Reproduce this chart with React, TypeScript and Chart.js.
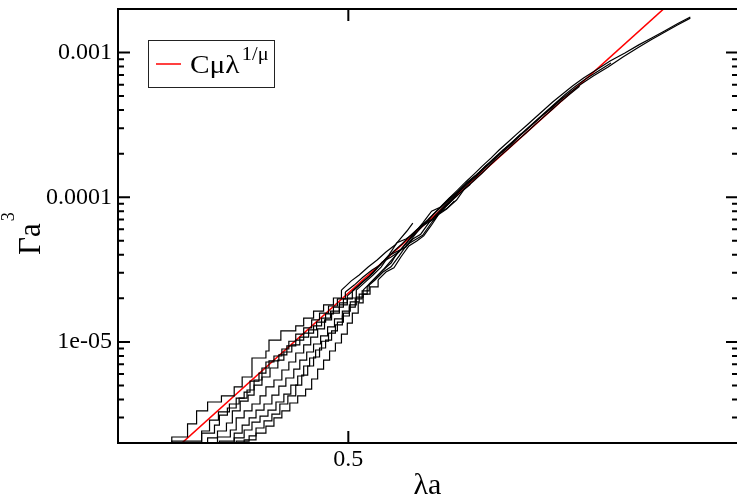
import React, { useEffect, useRef } from 'react';
import { Chart, registerables } from 'chart.js';

Chart.register(...registerables);

// ---------- axis ranges & ticks ----------
const X_MIN = 0.353;
const X_MAX = 0.9156;
const Y_MIN = 2e-6;
const Y_MAX = 2e-3;

const xTickValues = [0.5];
const xTickLabels = ['0.5'];
const yTickValues = [1e-5, 1e-4, 1e-3];
const yTickLabels = ['1e-05', '0.0001', '0.001'];
const yMinorValues = [
  3e-6, 4e-6, 5e-6, 6e-6, 7e-6, 8e-6, 9e-6,
  2e-5, 3e-5, 4e-5, 5e-5, 6e-5, 7e-5, 8e-5, 9e-5,
  2e-4, 3e-4, 4e-4, 5e-4, 6e-4, 7e-4, 8e-4, 9e-4,
];

const xTitle = 'λa';
const yTitle = 'Γa';
const yTitleSup = '3';
const legendText = 'Cμλ';
const legendSup = '1/μ';

// ---------- fit line (red) ----------
const redFit: [number, number][] = [
  [0.3864, 2e-6],
  [0.8147, 2e-3],
];

// ---------- measured curves: staircase part + smooth upper part ----------
const curveA_steps: [number, number][] = [
  [0.3707, 1.85e-6], [0.3804, 2.2e-6], [0.3898, 2.71e-6], [0.3953, 3.33e-6], [0.4021, 3.84e-6],
  [0.4108, 4.23e-6], [0.419, 4.88e-6], [0.4242, 5.72e-6], [0.4307, 7.74e-6], [0.4401, 8.65e-6],
  [0.4422, 1.03e-5], [0.4504, 1.19e-5], [0.4609, 1.29e-5], [0.4666, 1.46e-5], [0.4738, 1.63e-5],
  [0.4812, 1.8e-5], [0.4886, 2.01e-5], [0.4947, 2.28e-5],
];
const curveA_tail: [number, number][] = [
  [0.4947, 2.28e-5], [0.5023, 2.64e-5], [0.5085, 2.9e-5], [0.5156, 3.29e-5], [0.5228, 3.68e-5],
  [0.53, 4.18e-5], [0.5375, 4.67e-5], [0.5424, 5.22e-5], [0.5475, 5.84e-5], [0.5525, 6.63e-5],
];

const curveB_steps: [number, number][] = [
  [0.3707, 1.79e-6], [0.3804, 2.06e-6], [0.3984, 2.42e-6], [0.4033, 2.88e-6], [0.4089, 3.28e-6],
  [0.4159, 3.72e-6], [0.4222, 4.09e-6], [0.4274, 4.65e-6], [0.4321, 5.45e-6], [0.4374, 6.6e-6],
  [0.4422, 7.38e-6], [0.449, 8.12e-6], [0.4546, 9.37e-6], [0.4609, 1.03e-5], [0.4666, 1.15e-5],
  [0.4738, 1.29e-5], [0.4797, 1.46e-5], [0.4864, 1.63e-5], [0.4931, 1.86e-5], [0.4992, 2.08e-5],
];
const curveB_tail: [number, number][] = [
  [0.4992, 2.08e-5], [0.5062, 2.36e-5], [0.5132, 2.68e-5], [0.5195, 2.99e-5], [0.5268, 3.55e-5],
  [0.5342, 3.86e-5], [0.5408, 4.2e-5], [0.5483, 4.98e-5], [0.5559, 5.95e-5], [0.5636, 6.53e-5],
  [0.5715, 7.1e-5], [0.5795, 8.42e-5], [0.5875, 9.57e-5], [0.5957, 1.09e-4], [0.604, 1.23e-4],
];

const curveC_steps: [number, number][] = [
  [0.365, 1.65e-6], [0.3984, 2.34e-6], [0.4064, 2.66e-6], [0.4095, 3.12e-6], [0.4146, 3.49e-6],
  [0.4203, 4.09e-6], [0.4255, 4.5e-6], [0.4294, 5.36e-6], [0.4354, 6.09e-6], [0.4401, 7.26e-6],
  [0.4456, 7.99e-6], [0.4511, 8.93e-6], [0.456, 1.01e-5], [0.4609, 1.13e-5], [0.4666, 1.25e-5],
  [0.4724, 1.42e-5], [0.4782, 1.58e-5], [0.4849, 1.77e-5], [0.4916, 1.98e-5], [0.4977, 2.21e-5],
];
const curveC_tail: [number, number][] = [
  [0.4977, 2.21e-5], [0.5046, 2.47e-5], [0.5116, 2.81e-5], [0.5187, 3.14e-5], [0.5252, 3.4e-5],
  [0.5325, 3.99e-5], [0.5391, 4.85e-5], [0.5466, 5.14e-5], [0.5534, 5.6e-5], [0.561, 6.63e-5],
  [0.5688, 8.0e-5], [0.5768, 8.56e-5], [0.5848, 9.88e-5], [0.593, 1.1e-4], [0.6012, 1.27e-4],
  [0.6096, 1.42e-4], [0.618, 1.64e-4], [0.6267, 1.84e-4], [0.6354, 2.12e-4], [0.6443, 2.37e-4],
  [0.6532, 2.74e-4],
];

const curveD_steps: [number, number][] = [
  [0.365, 1.65e-6], [0.4021, 2.17e-6], [0.4083, 2.42e-6], [0.414, 2.75e-6], [0.4178, 3.33e-6],
  [0.4229, 3.9e-6], [0.4281, 4.29e-6], [0.4321, 5.03e-6], [0.4374, 5.72e-6], [0.4429, 6.6e-6],
  [0.4483, 7.49e-6], [0.4525, 8.51e-6], [0.4581, 9.52e-6], [0.4638, 1.08e-5], [0.4702, 1.21e-5],
  [0.476, 1.37e-5], [0.4827, 1.56e-5], [0.4886, 1.74e-5], [0.4962, 1.98e-5], [0.5031, 2.25e-5],
];
const curveD_tail: [number, number][] = [
  [0.5031, 2.25e-5], [0.5101, 2.55e-5], [0.5164, 2.85e-5], [0.5228, 3.24e-5], [0.5292, 3.68e-5],
  [0.5358, 4.18e-5], [0.5433, 4.75e-5], [0.55, 5.39e-5], [0.5576, 6.13e-5], [0.5653, 6.96e-5],
  [0.5724, 7.9e-5], [0.5804, 8.98e-5], [0.5884, 1.02e-4], [0.5957, 1.16e-4], [0.604, 1.32e-4],
  [0.6124, 1.49e-4], [0.6209, 1.7e-4], [0.6296, 1.93e-4], [0.6384, 2.19e-4], [0.6472, 2.49e-4],
  [0.6562, 2.82e-4], [0.6654, 3.21e-4], [0.6746, 3.64e-4], [0.6851, 4.14e-4], [0.6944, 4.7e-4],
  [0.7052, 5.34e-4], [0.7172, 6.06e-4], [0.7306, 6.88e-4], [0.7476, 7.94e-4], [0.765, 9.32e-4],
  [0.7828, 1.08e-3], [0.7986, 1.22e-3], [0.8147, 1.37e-3], [0.8323, 1.55e-3], [0.8491, 1.73e-3],
];

const curveE_steps: [number, number][] = [
  [0.365, 1.65e-6], [0.4083, 2.2e-6], [0.4165, 2.46e-6], [0.4203, 2.98e-6], [0.4255, 3.33e-6],
  [0.4307, 3.72e-6], [0.4361, 4.23e-6], [0.4401, 4.88e-6], [0.4456, 5.45e-6], [0.4511, 6.39e-6],
  [0.456, 7.26e-6], [0.4609, 8.38e-6], [0.4666, 9.52e-6], [0.4717, 1.08e-5], [0.4768, 1.23e-5],
  [0.4819, 1.42e-5], [0.4872, 1.58e-5], [0.4931, 1.8e-5], [0.4992, 2.01e-5], [0.5062, 2.28e-5],
];
const curveE_tail: [number, number][] = [
  [0.5062, 2.28e-5], [0.5132, 2.59e-5], [0.5195, 2.9e-5], [0.526, 3.29e-5], [0.5325, 3.95e-5],
  [0.5399, 4.25e-5], [0.5466, 4.55e-5], [0.5542, 5.48e-5], [0.5619, 6.55e-5], [0.5697, 7.07e-5],
  [0.5777, 8.03e-5], [0.5848, 9.12e-5], [0.593, 1.08e-4], [0.6012, 1.23e-4], [0.6096, 1.39e-4],
  [0.6171, 1.58e-4], [0.6257, 1.79e-4], [0.6344, 2.04e-4], [0.6433, 2.31e-4], [0.6512, 2.63e-4],
  [0.6603, 2.98e-4], [0.6695, 3.39e-4], [0.6788, 3.85e-4], [0.6882, 4.37e-4], [0.6978, 4.94e-4],
];

const curveF_steps: [number, number][] = [
  [0.365, 1.65e-6], [0.4095, 2.06e-6], [0.419, 2.34e-6], [0.4242, 2.66e-6], [0.4288, 2.98e-6],
  [0.4334, 3.38e-6], [0.4388, 3.72e-6], [0.4442, 4.29e-6], [0.449, 4.95e-6], [0.4539, 5.63e-6],
  [0.4595, 6.49e-6], [0.4638, 7.49e-6], [0.4688, 8.51e-6], [0.4738, 9.67e-6], [0.479, 1.1e-5],
  [0.4842, 1.27e-5], [0.4894, 1.44e-5], [0.4954, 1.63e-5], [0.5015, 1.89e-5], [0.5085, 2.14e-5],
  [0.5148, 2.4e-5],
];
const curveF_tail: [number, number][] = [
  [0.5148, 2.4e-5], [0.5211, 2.68e-5], [0.5276, 3.04e-5], [0.5342, 3.3e-5], [0.5408, 3.92e-5],
  [0.5475, 4.7e-5], [0.5542, 5.06e-5], [0.561, 5.45e-5], [0.5679, 6.53e-5], [0.5759, 7.8e-5],
  [0.583, 8.42e-5], [0.5912, 9.57e-5], [0.5985, 1.14e-4], [0.6068, 1.29e-4], [0.6152, 1.47e-4],
  [0.6228, 1.67e-4], [0.6315, 1.9e-4], [0.6403, 2.15e-4], [0.6492, 2.45e-4], [0.6583, 2.78e-4],
  [0.6674, 3.16e-4], [0.6767, 3.59e-4], [0.6861, 4.07e-4], [0.6957, 4.63e-4], [0.7054, 5.21e-4],
  [0.7153, 5.85e-4],
];

const curveG_steps: [number, number][] = [
  [0.365, 1.65e-6], [0.419, 2.17e-6], [0.4255, 2.46e-6], [0.4307, 2.79e-6], [0.4361, 3.07e-6],
  [0.4415, 3.38e-6], [0.447, 3.84e-6], [0.4525, 4.36e-6], [0.4574, 5.03e-6], [0.4623, 5.81e-6],
  [0.4666, 6.81e-6], [0.4709, 7.74e-6], [0.4753, 8.79e-6], [0.4797, 1.01e-5], [0.4849, 1.15e-5],
  [0.4901, 1.31e-5], [0.4954, 1.51e-5], [0.5008, 1.74e-5], [0.5054, 1.98e-5], [0.5108, 2.25e-5],
  [0.5164, 2.51e-5],
];
const curveG_tail: [number, number][] = [
  [0.5164, 2.51e-5], [0.522, 2.81e-5], [0.5276, 3.14e-5], [0.5342, 3.51e-5], [0.5399, 4.2e-5],
  [0.5466, 4.53e-5], [0.5525, 5.14e-5], [0.5593, 5.55e-5], [0.5662, 6.63e-5], [0.5724, 7.53e-5],
  [0.5795, 8.56e-5], [0.5866, 9.72e-5], [0.5939, 1.1e-4], [0.6012, 1.25e-4], [0.6096, 1.42e-4],
  [0.618, 1.62e-4], [0.6257, 1.84e-4], [0.6344, 2.09e-4], [0.6433, 2.37e-4], [0.6522, 2.69e-4],
  [0.6613, 3.06e-4], [0.6705, 3.47e-4], [0.6798, 3.94e-4], [0.6893, 4.48e-4], [0.6989, 5.09e-4],
  [0.7097, 5.78e-4], [0.7219, 6.56e-4], [0.7364, 7.45e-4], [0.751, 8.47e-4],
];

const curveH_steps: [number, number][] = [
  [0.365, 1.65e-6], [0.4203, 2.06e-6], [0.4288, 2.24e-6], [0.4334, 2.54e-6], [0.4388, 2.84e-6],
  [0.4442, 3.17e-6], [0.4497, 3.72e-6], [0.4553, 4.23e-6], [0.4609, 5.03e-6], [0.4652, 5.9e-6],
  [0.4695, 6.81e-6], [0.4738, 7.86e-6], [0.4782, 9.07e-6], [0.4827, 1.03e-5], [0.4872, 1.19e-5],
  [0.4916, 1.37e-5], [0.4962, 1.58e-5], [0.5008, 1.8e-5], [0.5062, 2.04e-5], [0.5116, 2.28e-5],
];
const curveH_tail: [number, number][] = [
  [0.5116, 2.28e-5], [0.5171, 2.55e-5], [0.5228, 2.85e-5], [0.5284, 3.19e-5], [0.5333, 3.57e-5],
  [0.5391, 4.05e-5], [0.5449, 4.6e-5], [0.5508, 5.22e-5], [0.5576, 5.93e-5], [0.5645, 6.74e-5],
  [0.5706, 7.66e-5], [0.5777, 8.69e-5], [0.5848, 9.88e-5], [0.5921, 1.12e-4], [0.5994, 1.27e-4],
  [0.6077, 1.45e-4], [0.6152, 1.64e-4], [0.6238, 1.87e-4], [0.6315, 2.12e-4], [0.6403, 2.41e-4],
  [0.6492, 2.74e-4], [0.6583, 3.11e-4], [0.6674, 3.53e-4], [0.6767, 4.01e-4], [0.6861, 4.55e-4],
  [0.6967, 5.17e-4], [0.7075, 5.87e-4], [0.7197, 6.67e-4], [0.7339, 7.57e-4], [0.7499, 8.74e-4],
  [0.7673, 9.93e-4], [0.784, 1.13e-3], [0.7998, 1.26e-3], [0.8159, 1.41e-3], [0.8323, 1.58e-3],
  [0.8491, 1.76e-3],
];

const curveI_steps: [number, number][] = [
  [0.365, 1.65e-6], [0.4255, 2.1e-6], [0.4334, 2.34e-6], [0.4401, 2.62e-6], [0.4456, 2.98e-6],
  [0.4511, 3.33e-6], [0.4567, 3.78e-6], [0.4623, 4.23e-6], [0.468, 4.72e-6], [0.4724, 5.54e-6],
  [0.4768, 6.49e-6], [0.4812, 7.49e-6], [0.4857, 8.65e-6], [0.4901, 9.82e-6], [0.4947, 1.13e-5],
  [0.4992, 1.35e-5], [0.5031, 1.58e-5], [0.5077, 1.86e-5], [0.5116, 2.14e-5], [0.5171, 2.4e-5],
  [0.5236, 2.68e-5],
];
const curveI_tail: [number, number][] = [
  [0.5236, 2.68e-5], [0.53, 3.04e-5], [0.5366, 3.25e-5], [0.5424, 3.86e-5], [0.5491, 4.6e-5],
  [0.5559, 4.98e-5], [0.5619, 5.4e-5], [0.5688, 6.43e-5], [0.575, 7.6e-5], [0.5822, 8.29e-5],
  [0.5893, 9.41e-5],
];

const stepParts = [curveA_steps, curveB_steps, curveC_steps, curveD_steps, curveE_steps, curveF_steps, curveG_steps, curveH_steps, curveI_steps];
const tailParts = [curveA_tail, curveB_tail, curveC_tail, curveD_tail, curveE_tail, curveF_tail, curveG_tail, curveH_tail, curveI_tail];

const FONT = '"Liberation Serif", "Times New Roman", Times, serif';

const toXY = (arr: [number, number][]) => arr.map(([x, y]) => ({ x, y }));

const overlayPlugin = {
  id: 'overlay',
  afterDraw(chart: any) {
    const { ctx, chartArea: a, scales } = chart;
    const xs = scales.x;
    const ys = scales.y;
    ctx.save();
    // frame
    ctx.strokeStyle = '#000';
    ctx.lineWidth = 2;
    ctx.strokeRect(a.left, a.top, a.right - a.left, a.bottom - a.top);
    // ticks (inward)
    ctx.beginPath();
    for (const v of yTickValues) {
      const p = ys.getPixelForValue(v);
      ctx.moveTo(a.left, p); ctx.lineTo(a.left + 12, p);
      ctx.moveTo(a.right, p); ctx.lineTo(a.right - 13, p);
    }
    for (const v of yMinorValues) {
      const p = ys.getPixelForValue(v);
      ctx.moveTo(a.left, p); ctx.lineTo(a.left + 6, p);
      ctx.moveTo(a.right, p); ctx.lineTo(a.right - 7, p);
    }
    for (const v of xTickValues) {
      const p = xs.getPixelForValue(v);
      ctx.moveTo(p, a.bottom); ctx.lineTo(p, a.bottom - 12);
      ctx.moveTo(p, a.top); ctx.lineTo(p, a.top + 12);
    }
    ctx.stroke();

    // axis titles
    ctx.fillStyle = '#000';
    ctx.font = `30px ${FONT}`;
    ctx.textAlign = 'center';
    ctx.textBaseline = 'alphabetic';
    ctx.fillText(xTitle, (a.left + 737) / 2, 494);

    ctx.save();
    ctx.translate(40, 255);
    ctx.rotate(-Math.PI / 2);
    ctx.textAlign = 'left';
    ctx.font = `31px ${FONT}`;
    ctx.fillText(yTitle, 0, 0);
    const w = ctx.measureText(yTitle).width;
    ctx.font = `18px ${FONT}`;
    ctx.fillText(yTitleSup, w + 2, -26);
    ctx.restore();

    // legend box
    ctx.lineWidth = 1;
    ctx.strokeStyle = '#222';
    ctx.fillStyle = '#fff';
    ctx.fillRect(148.5, 40.5, 126, 47);
    ctx.strokeRect(148.5, 40.5, 126, 47);
    ctx.strokeStyle = '#ff0000';
    ctx.lineWidth = 1.5;
    ctx.beginPath();
    ctx.moveTo(156, 64);
    ctx.lineTo(181, 64);
    ctx.stroke();
    ctx.fillStyle = '#000';
    ctx.textAlign = 'left';
    ctx.save();
    ctx.translate(190, 73);
    ctx.scale(1.13, 1);
    ctx.font = `26px ${FONT}`;
    ctx.fillText(legendText, 0, 0);
    const lw = ctx.measureText(legendText).width;
    ctx.font = `18px ${FONT}`;
    ctx.fillText(legendSup, lw + 2, -13);
    ctx.restore();
    ctx.restore();
  },
};

export default function App() {
  const ref = useRef<HTMLCanvasElement>(null);
  useEffect(() => {
    const canvas = ref.current;
    if (!canvas) return;
    const datasets: any[] = [];
    stepParts.forEach((part) => {
      datasets.push({
        data: toXY(part),
        borderColor: '#000',
        borderWidth: 1.2,
        pointRadius: 0,
        stepped: 'before',
        fill: false,
      });
    });
    tailParts.forEach((part) => {
      datasets.push({
        data: toXY(part),
        borderColor: '#000',
        borderWidth: 1.2,
        pointRadius: 0,
        tension: 0,
        fill: false,
      });
    });
    datasets.push({
      data: toXY(redFit),
      borderColor: '#ff0000',
      borderWidth: 1.6,
      pointRadius: 0,
      fill: false,
    });

    const chart = new Chart(canvas, {
      type: 'line',
      data: { datasets },
      options: {
        animation: false,
        responsive: false,
        devicePixelRatio: 1,
        events: [],
        layout: { padding: { top: 9, right: 0, left: 0, bottom: 0 } },
        plugins: { legend: { display: false }, tooltip: { enabled: false } },
        scales: {
          x: {
            type: 'logarithmic',
            position: 'bottom',
            min: X_MIN,
            max: X_MAX,
            grid: { display: false, drawTicks: false, tickLength: 0 },
            border: { display: false },
            afterBuildTicks: (s: any) => { s.ticks = xTickValues.map((v) => ({ value: v })); },
            afterFit: (s: any) => { s.height = 52; s.paddingLeft = 0; s.paddingRight = 0; },
            ticks: {
              autoSkip: false,
              maxRotation: 0,
              padding: 2,
              color: '#000',
              font: { family: FONT, size: 24 },
              callback: (v: any) => {
                const i = xTickValues.indexOf(Number(v));
                return i >= 0 ? xTickLabels[i] : '';
              },
            },
          },
          y: {
            type: 'logarithmic',
            position: 'left',
            min: Y_MIN,
            max: Y_MAX,
            grid: { display: false, drawTicks: false, tickLength: 0 },
            border: { display: false },
            afterBuildTicks: (s: any) => { s.ticks = yTickValues.map((v) => ({ value: v })); },
            afterFit: (s: any) => { s.width = 118; s.paddingTop = 0; s.paddingBottom = 0; },
            ticks: {
              autoSkip: false,
              padding: 6,
              color: '#000',
              font: { family: FONT, size: 24 },
              callback: (v: any) => {
                const i = yTickValues.indexOf(Number(v));
                return i >= 0 ? yTickLabels[i] : '';
              },
            },
          },
        },
      },
      plugins: [overlayPlugin],
    } as any);
    return () => chart.destroy();
  }, []);

  return (
    <div style={{ position: 'absolute', left: 0, top: 0, width: 737, height: 495, overflow: 'hidden', background: '#fff' }}>
      <canvas ref={ref} width={739} height={495} style={{ display: 'block', width: 739, height: 495 }} />
    </div>
  );
}
